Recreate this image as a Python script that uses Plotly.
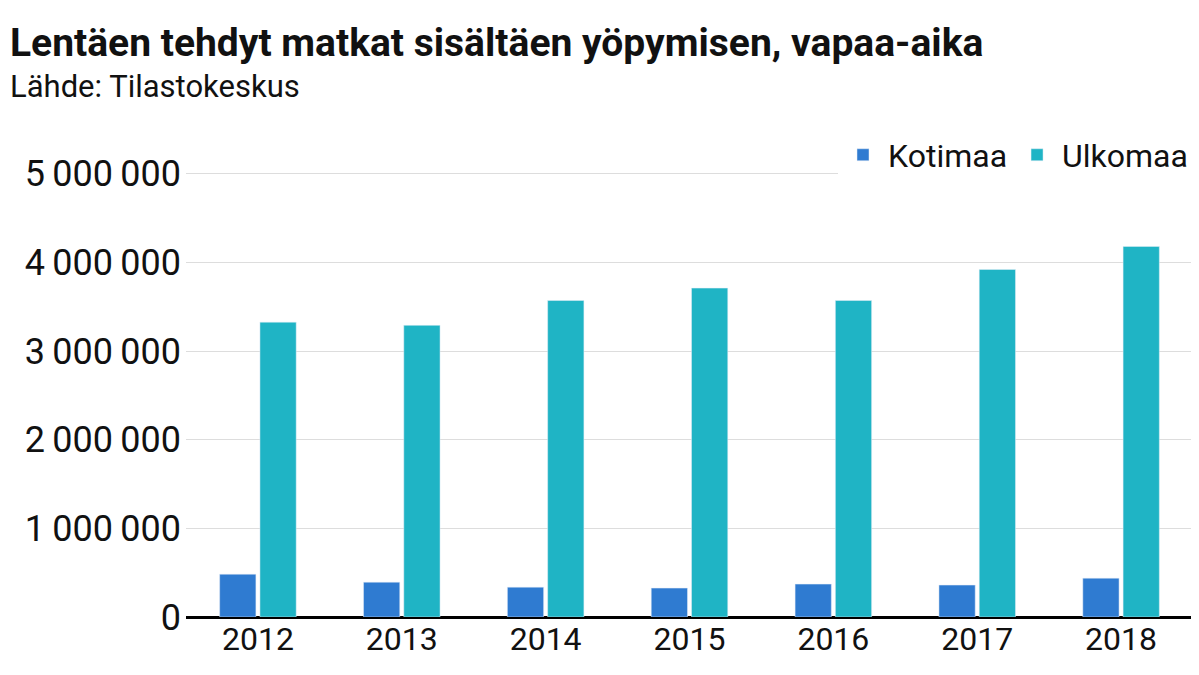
import plotly.graph_objects as go

years = ["2012", "2013", "2014", "2015", "2016", "2017", "2018"]
kotimaa = [483000, 393000, 337000, 326000, 371000, 360000, 438000]
ulkomaa = [3326000, 3290000, 3570000, 3710000, 3570000, 3920000, 4180000]

F = "Roboto"
fig = go.Figure()
fig.add_bar(x=years, y=kotimaa, name="Kotimaa", marker_color="#2f7bd1")
fig.add_bar(x=years, y=ulkomaa, name="Ulkomaa", marker_color="#1fb4c5")

fig.update_layout(
    width=1199, height=675, plot_bgcolor="white", paper_bgcolor="white",
    margin=dict(l=178, r=14, t=156, b=57+9),
    barmode="group", bargap=0.44, bargroupgap=0.1,
    separators=",\u2009",
    font=dict(family=F, color="#111"),
    annotations=[
        dict(text="<b>Lentäen tehdyt matkat sisältäen yöpymisen, vapaa-aika</b>", xref="paper", yref="paper",
             x=-178/1007, y=1 + (156 - 10) / 453, xanchor="left", yanchor="top", showarrow=False,
             font=dict(size=39, family=F, color="#111")),
        dict(text="Lähde: Tilastokeskus", xref="paper", yref="paper",
             x=-178/1007, y=1 + (156 - 58) / 453, xanchor="left", yanchor="top", showarrow=False,
             font=dict(size=31, family=F, color="#111")),
    ],
    legend=dict(orientation="h", x=1, xanchor="right", y=1.02, yanchor="middle",
                font=dict(size=32), itemwidth=40, traceorder="normal"),
    xaxis=dict(tickfont=dict(size=32), showgrid=False, ticks="", showline=False),
    yaxis=dict(range=[0, 5110000], tickvals=[0, 1e6, 2e6, 3e6, 4e6, 5e6], tickformat=",d",
               tickfont=dict(size=36), gridcolor="#dddddd", zeroline=True,
               zerolinecolor="black", zerolinewidth=3, ticklabelstandoff=4),
)
fig.write_html("out.html")
